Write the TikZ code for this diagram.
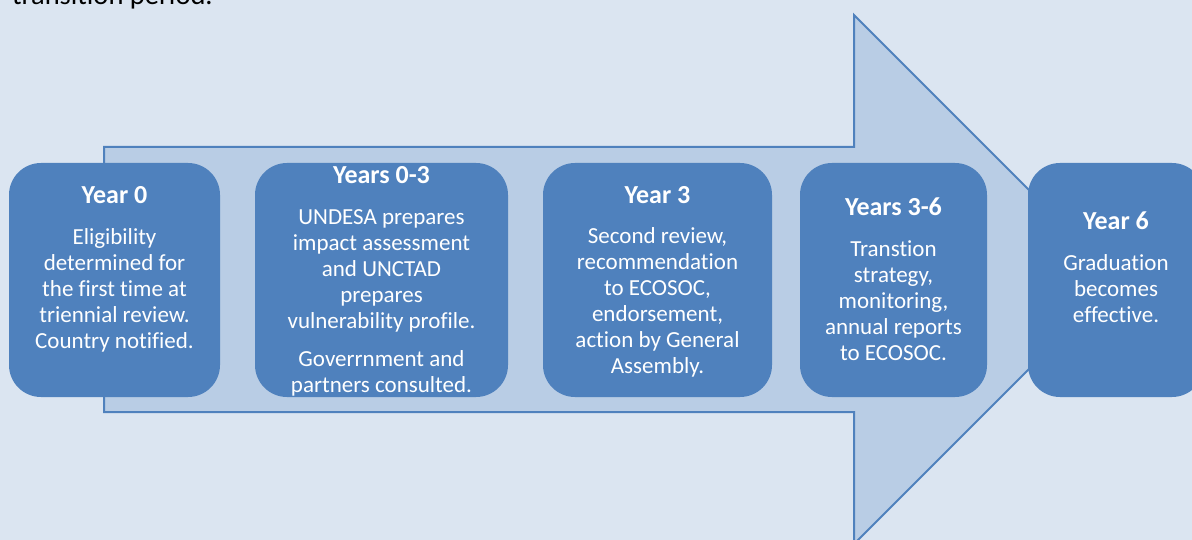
\documentclass[tikz,border=0pt]{standalone}
\usepackage{fontspec}
\setmainfont{Carlito}[Ligatures=NoCommon]
\usetikzlibrary{positioning}
\definecolor{pagebg}{HTML}{DBE5F1}
\definecolor{arrowfill}{HTML}{B9CDE5}
\definecolor{accent}{HTML}{4F81BD}

\begin{document}
\begin{tikzpicture}[x=1pt, y=-1pt,
		stepbox/.style={fill=accent, rounded corners=32pt, minimum height=234pt, inner sep=0pt},
		steptitle/.style={anchor=base, inner sep=0pt, text=white, font=\fontsize{26}{31}\selectfont\bfseries},
		steptext/.style={anchor=north, inner sep=0pt, text=white, align=center, font=\fontsize{23}{26}\selectfont, execute at begin node=\strut}]
		% page
		\useasboundingbox (0,0) rectangle (1192,540);
		\fill[pagebg] (0,0) rectangle (1192,540);
		\clip (0,0) rectangle (1192,540);
		\node[anchor=base west, inner sep=0pt, font=\fontsize{28.5}{34}\selectfont] (intro) at (12,5) {transition period.};
		% big arrow behind the steps
		\draw[accent, line width=2pt, fill=arrowfill] (104,147) -- (854,147) -- (854,15) -- (1118.5,279.5) -- (854,544) -- (854,412) -- (104,412) -- cycle;
		% steps
		\node[stepbox, minimum width=211pt] (yr0) at (114.5,280) {};
		\node[stepbox, minimum width=253pt] (yr03) at (381.5,280) {};
		\node[stepbox, minimum width=229pt] (yr3) at (657.5,280) {};
		\node[stepbox, minimum width=187pt] (yr36) at (893.5,280) {};
		\node[stepbox, minimum width=176pt] (yr6) at (1116,280) {};
		% labels:
		\node[steptitle] (yr0t) at (114.5,203.3) {Year 0};
		\node[steptext] (yr0b) at (114.5,228.5) {Eligibility\\determined for\\the first time at\\triennial review.\\Country notified.};
		\node[steptitle] (yr03t) at (381.5,184) {Years 0-3};
		\node[steptext] (yr03b) at (381.5,209.3) {UNDESA prepares\\impact assessment\\and UNCTAD\\prepares\\vulnerability profile.\\[12pt]Goverrnment and\\partners consulted.};
		\node[steptitle] (yr3t) at (657.5,203.3) {Year 3};
		\node[steptext] (yr3b) at (657.5,227.5) {Second review,\\recommendation\\to ECOSOC,\\endorsement,\\action by General\\Assembly.};
		\node[steptitle] (yr36t) at (893.5,216) {Years 3-6};
		\node[steptext] (yr36b) at (893.5,240.3) {Transtion\\strategy,\\monitoring,\\annual reports\\to ECOSOC.};
		\node[steptitle] (yr6t) at (1116,230) {Year 6};
		\node[steptext] (yr6b) at (1116,254.6) {Graduation\\becomes\\effective.};
	\end{tikzpicture}
\end{document}
